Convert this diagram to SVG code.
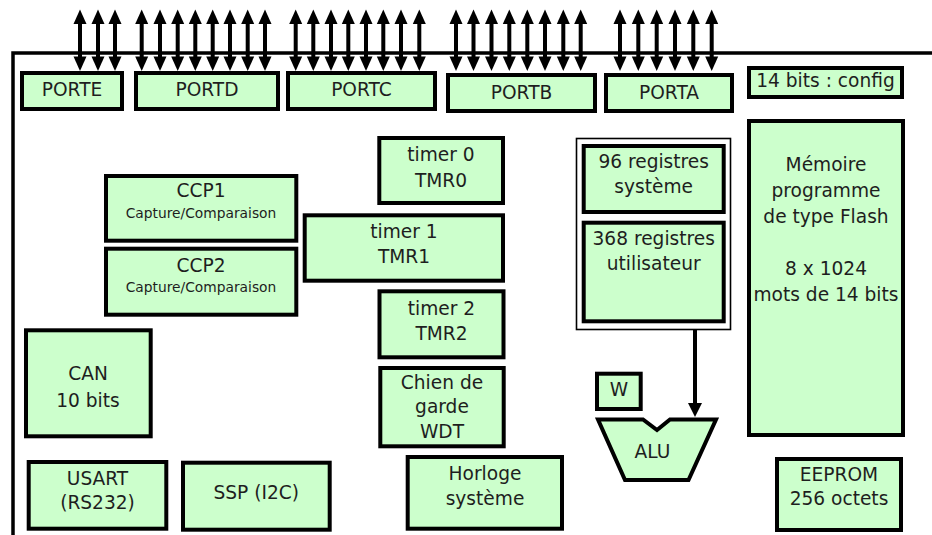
<svg xmlns="http://www.w3.org/2000/svg" width="932" height="535" viewBox="0 0 932 535">
  <defs>
    <style>
      .box { fill: #ccffcc; stroke: #000; stroke-width: 4; }
      .frame { fill: none; stroke: #000; stroke-width: 3.5; }
      .t { font-family: "DejaVu Sans", Verdana, sans-serif; font-size: 18.6px; fill: #1e1e1e; text-anchor: middle; }
      .s { font-size: 13.8px; }
    </style>
    <!-- bidirectional I/O pin arrow, centred on x=0 -->
    <g id="pin">
      <rect x="-2" y="23" width="4" height="35" fill="#000"/>
      <polygon points="0,9.5 -6.5,24 6.5,24" fill="#000"/>
      <polygon points="0,71 -6.5,56.5 6.5,56.5" fill="#000"/>
    </g>
  </defs>

  <rect width="932" height="535" fill="#fff"/>

  <!-- chip outline -->
  <path class="frame" d="M13,535 V53 H932"/>

  <!-- connectors -->
  <g id="connectors">
    <!-- PORTE pins -->
    <use href="#pin" x="80"/><use href="#pin" x="98"/><use href="#pin" x="115"/>
    <!-- PORTD pins -->
    <use href="#pin" x="141.7"/><use href="#pin" x="160"/><use href="#pin" x="177.7"/><use href="#pin" x="195.3"/>
    <use href="#pin" x="212.7"/><use href="#pin" x="230"/><use href="#pin" x="247.7"/><use href="#pin" x="265"/>
    <!-- PORTC pins -->
    <use href="#pin" x="295.7"/><use href="#pin" x="313.3"/><use href="#pin" x="331"/><use href="#pin" x="348.3"/>
    <use href="#pin" x="366"/><use href="#pin" x="383.3"/><use href="#pin" x="401"/><use href="#pin" x="419.3"/>
    <!-- PORTB pins -->
    <use href="#pin" x="456"/><use href="#pin" x="473.5"/><use href="#pin" x="491.5"/><use href="#pin" x="509.3"/>
    <use href="#pin" x="527.3"/><use href="#pin" x="545"/><use href="#pin" x="563.3"/><use href="#pin" x="580.7"/>
    <!-- PORTA pins -->
    <use href="#pin" x="620"/><use href="#pin" x="638.3"/><use href="#pin" x="656.7"/><use href="#pin" x="675"/>
    <use href="#pin" x="693.3"/><use href="#pin" x="711.7"/>
    <!-- register file to ALU -->
    <line x1="695" y1="330" x2="695" y2="404" stroke="#000" stroke-width="4"/>
    <polygon points="688,403 702,403 695,417" fill="#000"/>
  </g>

  <!-- ports -->
  <g id="porte"><rect class="box" x="22" y="73" width="100" height="36"/><text class="t" x="72" y="96">PORTE</text></g>
  <g id="portd"><rect class="box" x="136" y="73" width="142" height="36"/><text class="t" x="207" y="96">PORTD</text></g>
  <g id="portc"><rect class="box" x="288" y="73" width="147" height="36"/><text class="t" x="361.5" y="96">PORTC</text></g>
  <g id="portb"><rect class="box" x="448" y="75" width="147" height="36"/><text class="t" x="521.5" y="99">PORTB</text></g>
  <g id="porta"><rect class="box" x="606" y="75" width="126" height="36"/><text class="t" x="669" y="99">PORTA</text></g>
  <g id="config"><rect class="box" x="749" y="68" width="153" height="29"/><text class="t" x="825.5" y="87">14 bits : config</text></g>

  <!-- program memory -->
  <g id="flash">
    <rect class="box" x="749" y="121" width="154" height="314"/>
    <text class="t" x="826" y="171">Mémoire</text>
    <text class="t" x="826" y="197">programme</text>
    <text class="t" x="826" y="223">de type Flash</text>
    <text class="t" x="826" y="275">8 x 1024</text>
    <text class="t" x="826" y="301">mots de 14 bits</text>
  </g>

  <g id="eeprom">
    <rect class="box" x="777" y="459" width="124" height="71"/>
    <text class="t" x="839" y="481">EEPROM</text>
    <text class="t" x="839" y="505">256 octets</text>
  </g>

  <!-- register file -->
  <g id="registres">
    <rect x="576.5" y="138.5" width="154" height="191" fill="#fff" stroke="#000" stroke-width="1.6"/>
    <g id="reg-sys">
      <rect class="box" x="583.7" y="146" width="140" height="66"/>
      <text class="t" x="653.7" y="168">96 registres</text>
      <text class="t" x="653.7" y="193">système</text>
    </g>
    <g id="reg-user">
      <rect class="box" x="583.7" y="222.7" width="140" height="98.6"/>
      <text class="t" x="653.7" y="244.5">368 registres</text>
      <text class="t" x="653.7" y="270">utilisateur</text>
    </g>
  </g>

  <g id="w"><rect class="box" x="597" y="373.7" width="43.7" height="35.3"/><text class="t" x="619" y="396">W</text></g>

  <g id="alu">
    <polygon class="box" stroke-linejoin="miter" points="598,419.5 643,419.5 657,430 670,419.5 716,419.5 688.5,480 625,480"/>
    <text class="t" x="652.5" y="458">ALU</text>
  </g>

  <!-- peripherals -->
  <g id="ccp1">
    <rect class="box" x="106" y="176" width="190.3" height="64.7"/>
    <text class="t" x="201" y="197">CCP1</text>
    <text class="t s" x="201" y="217.5">Capture/Comparaison</text>
  </g>
  <g id="ccp2">
    <rect class="box" x="106" y="248.7" width="190.3" height="66"/>
    <text class="t" x="201" y="271.5">CCP2</text>
    <text class="t s" x="201" y="291.5">Capture/Comparaison</text>
  </g>
  <g id="timer0">
    <rect class="box" x="379.3" y="138" width="123.7" height="65"/>
    <text class="t" x="441" y="161">timer 0</text>
    <text class="t" x="441" y="186.5">TMR0</text>
  </g>
  <g id="timer1">
    <rect class="box" x="304.7" y="215.3" width="198.3" height="65.4"/>
    <text class="t" x="404" y="237.5">timer 1</text>
    <text class="t" x="404" y="262.5">TMR1</text>
  </g>
  <g id="timer2">
    <rect class="box" x="379.5" y="291.3" width="124" height="66"/>
    <text class="t" x="441.5" y="314.5">timer 2</text>
    <text class="t" x="441.5" y="340">TMR2</text>
  </g>
  <g id="wdt">
    <rect class="box" x="380.3" y="368" width="123.4" height="78.3"/>
    <text class="t" x="442" y="388.5">Chien de</text>
    <text class="t" x="442" y="413">garde</text>
    <text class="t" x="442" y="438">WDT</text>
  </g>
  <g id="can">
    <rect class="box" x="26" y="330.3" width="124.7" height="106"/>
    <text class="t" x="88" y="380">CAN</text>
    <text class="t" x="88" y="407">10 bits</text>
  </g>
  <g id="usart">
    <rect class="box" x="28.7" y="462" width="137.6" height="66.7"/>
    <text class="t" x="97.5" y="485">USART</text>
    <text class="t" x="97.5" y="508.5">(RS232)</text>
  </g>
  <g id="ssp">
    <rect class="box" x="183" y="462.7" width="146.7" height="67"/>
    <text class="t" x="256.3" y="499">SSP (I2C)</text>
  </g>
  <g id="horloge">
    <rect class="box" x="407.7" y="457" width="154.3" height="71.7"/>
    <text class="t" x="485" y="480">Horloge</text>
    <text class="t" x="485" y="505">système</text>
  </g>
</svg>
